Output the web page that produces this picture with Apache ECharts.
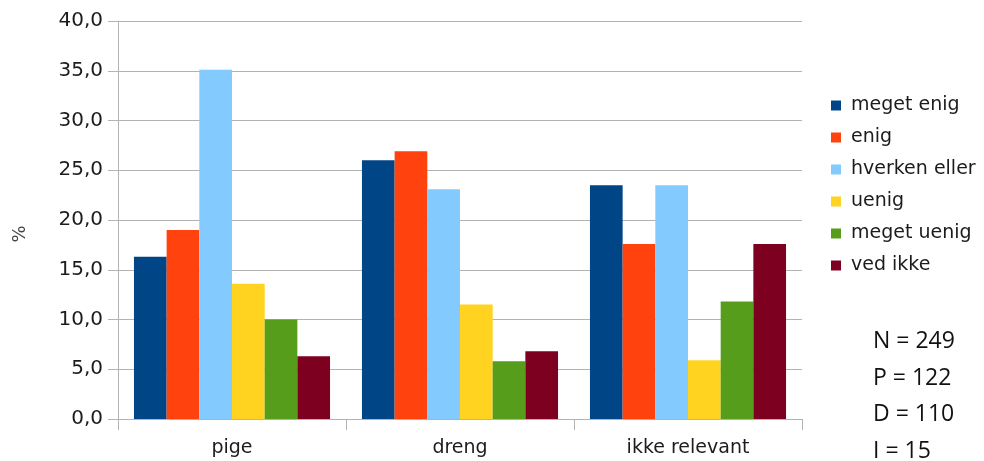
<!DOCTYPE html>
<html>
<head>
<meta charset="utf-8">
<script src="https://cdn.jsdelivr.net/npm/echarts@6/dist/echarts.min.js"></script>
<style>
  html, body { margin: 0; padding: 0; background: #fff; }
  #chart { width: 984px; height: 461px; }
</style>
</head>
<body>
<div id="chart"></div>
<script>
// Answer distribution (%) per group
const categories = ['pige', 'dreng', 'ikke relevant'];
const seriesNames = ['meget enig', 'enig', 'hverken eller', 'uenig', 'meget uenig', 'ved ikke'];
const megetEnig   = [16.3, 26.0, 23.5];
const enig        = [19.0, 26.9, 17.6];
const hverkenEller= [35.1, 23.1, 23.5];
const uenig       = [13.6, 11.5, 5.9];
const megetUenig  = [10.0, 5.8, 11.8];
const vedIkke     = [6.3, 6.8, 17.6];
const seriesValues = [megetEnig, enig, hverkenEller, uenig, megetUenig, vedIkke];
const colors = ['#004586', '#ff420e', '#83caff', '#ffd320', '#579d1c', '#7e0021'];
const yAxisTitle = '%';
const sampleNotes = ['N = 249', 'P = 122', 'D = 110', 'I = 15'];

const FONT = 'DejaVu Sans';
const TEXT = '#1c1c1c';
const chart = echarts.init(document.getElementById('chart'), null, { renderer: 'canvas' });

chart.setOption({
  animation: false,
  color: colors,
  grid: { left: 118, right: 182, top: 21, bottom: 42, containLabel: false, outerBoundsMode: 'none' },
  legend: {
    orient: 'vertical',
    left: 831,
    top: 96,
    padding: 0,
    icon: 'rect',
    itemWidth: 10,
    itemHeight: 10,
    itemGap: 13,
    textStyle: { fontFamily: FONT, fontSize: 19, color: TEXT, lineHeight: 19, padding: [0, 0, 0, 5] },
    data: seriesNames
  },
  xAxis: {
    type: 'category',
    data: categories,
    axisLine: { lineStyle: { color: '#b3b3b3', width: 1 } },
    axisTick: { show: true, length: 11, lineStyle: { color: '#b3b3b3' } },
    axisLabel: { fontFamily: FONT, fontSize: 19, color: TEXT, margin: 20 }
  },
  yAxis: {
    type: 'value',
    min: 0,
    max: 40,
    interval: 5,
    axisLine: { show: true, lineStyle: { color: '#b3b3b3' } },
    axisTick: { show: true, length: 10, lineStyle: { color: '#b3b3b3' } },
    splitLine: { lineStyle: { color: '#b3b3b3', width: 1 } },
    axisLabel: {
      fontFamily: FONT, fontSize: 20, color: TEXT, margin: 15,
      formatter: v => v.toFixed(1).replace('.', ',')
    }
  },
  series: seriesNames.map((name, i) => ({
    name: name,
    type: 'bar',
    data: seriesValues[i],
    barGap: '0%',
    barCategoryGap: '14%'
  })),
  graphic: [
    // rotated y-axis title
    {
      type: 'text',
      x: 20,
      y: 234,
      rotation: Math.PI / 2,
      style: { text: yAxisTitle, fontFamily: FONT, fontSize: 18, fill: '#444', align: 'center', verticalAlign: 'middle' }
    }
  ].concat(sampleNotes.map((t, i) => ({
    type: 'text',
    left: 873,
    top: 330 + i * 36.7,
    style: { text: t, fontFamily: 'Open Sans', fontSize: 23, fill: '#111' }
  })))
});
</script>
</body>
</html>
